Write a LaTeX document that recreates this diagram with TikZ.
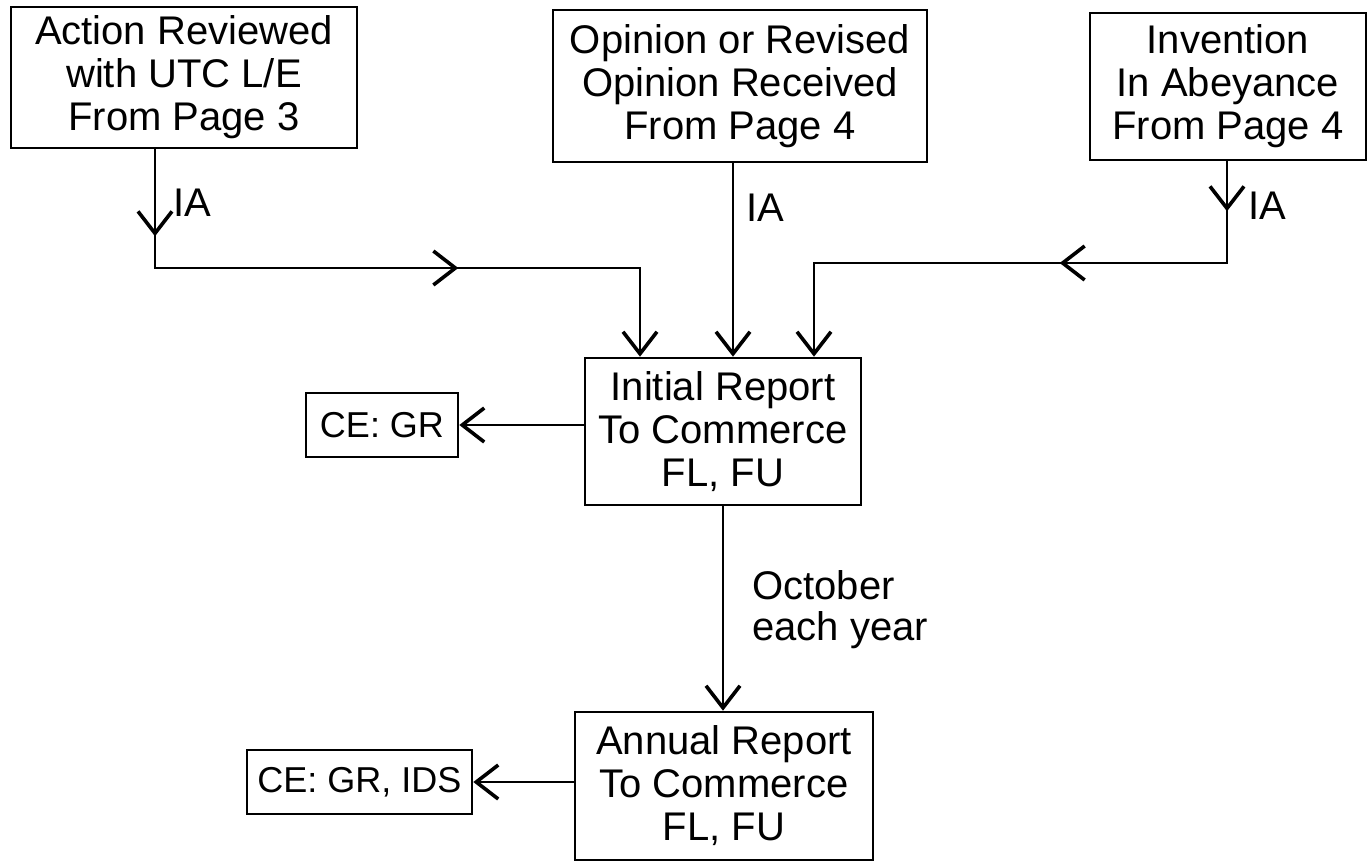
\documentclass[tikz,border=0pt]{standalone}
\usepackage{fontspec}
\setmainfont{Liberation Sans}
\usetikzlibrary{arrows.meta,decorations.markings}
\tikzset{
  vee/.tip={Straight Barb[length=11pt,width=17pt,line width=1.8pt]},
}
\begin{document}
\begin{tikzpicture}[x=0.5pt,y=-0.5pt,
  box/.style={draw,line width=1.3pt,inner sep=0pt,align=center,font=\fontsize{20}{21.5}\selectfont},
  smallbox/.style={box,font=\fontsize{18}{20}\selectfont},
  lbl/.style={inner sep=0pt,font=\fontsize{20}{21.5}\selectfont},
  conn/.style={line width=1.3pt,-vee},
  midtips/.style 2 args={postaction={decorate},decoration={markings,
     mark=at position #1 with {\arrow{vee}},
     mark=at position #2 with {\arrow{vee}}}}
]
\useasboundingbox (0,0) rectangle (1372,864);

\node[box,minimum width=173pt,minimum height=70.5pt] (A) at (184,77.5) {Action Reviewed\\with UTC L/E\\From Page 3};
\node[box,minimum width=187pt,minimum height=76pt] (B) at (740,86) {Opinion or Revised\\Opinion Received\\From Page 4};
\node[box,minimum width=138pt,minimum height=73.5pt] (C) at (1228,86.5) {Invention\\In Abeyance\\From Page 4};
\node[box,minimum width=138pt,minimum height=73.5pt] (I) at (723,431.5) {Initial Report\\To Commerce\\FL, FU};
\node[smallbox,minimum width=76pt,minimum height=32pt] (G1) at (382,425) {CE: GR};
\node[box,minimum width=149pt,minimum height=74pt] (N) at (724,786) {Annual Report\\To Commerce\\FL, FU};
\node[smallbox,minimum width=112.5pt,minimum height=32pt] (G2) at (359.5,782) {CE: GR, IDS};

\coordinate (a1) at (155,268);
\coordinate (a2) at (640,268);
\coordinate (bx) at (733,300);
\coordinate (c1) at (1227,263);
\coordinate (c2) at (814,263);

\draw[conn,midtips={43.5pt}{211pt}] (A.south -| a1) -- (a1) -- (a2) -- (a2 |- I.north);
\draw[conn] (B.south -| bx) -- (bx |- I.north);
\draw[conn,midtips={25pt}{134.5pt}] (C.south -| c1) -- (c1) -- (c2) -- (c2 |- I.north);

\node[lbl] (ia1) at (192,203) {IA};
\node[lbl] (ia2) at (765,208) {IA};
\node[lbl] (ia3) at (1267,206) {IA};

\draw[conn] (I.west |- G1.east) -- (G1.east);
\draw[conn] (I.south) -- (I.south |- N.north);
\draw[conn] (N.west |- G2.east) -- (G2.east);

\node[lbl,anchor=west,align=left,font=\fontsize{20}{20.5}\selectfont] (oct) at (752,610) {October\\each year};
\end{tikzpicture}
\end{document}
